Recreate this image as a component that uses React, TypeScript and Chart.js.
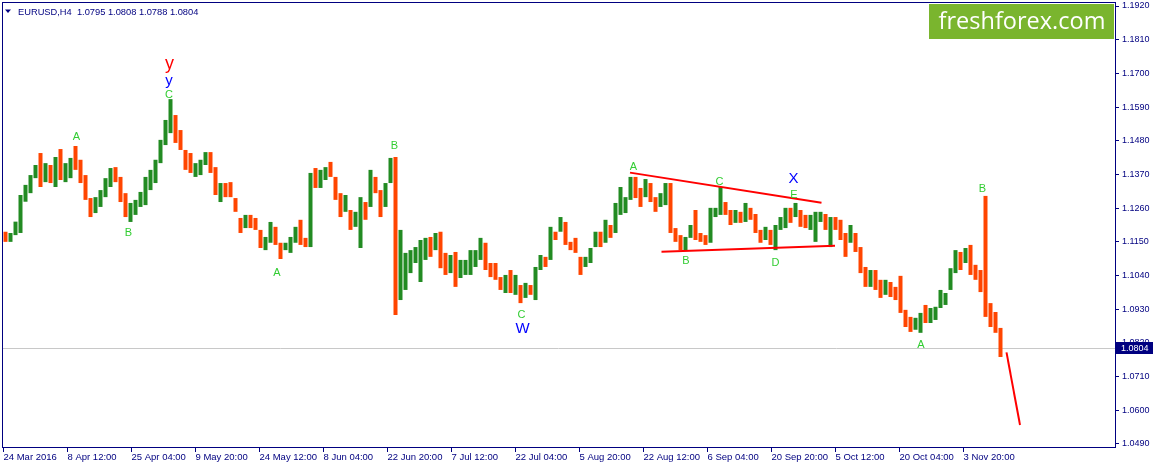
import React, { useEffect, useRef } from "react";
import { Chart, registerables } from "chart.js";

Chart.register(...registerables);

// ---------- data ----------
const symbolLabel = "EURUSD,H4";
const lastBarOHLC = [1.0795, 1.0808, 1.0788, 1.0804];

// each drawn block merges this many H4 bars (x unit = one H4 bar)
const barsPerGroup = 5;
const firstOpen = 1.117;

const highs = [
  1.1183, 1.1179, 1.1216, 1.1303, 1.1336, 1.1368, 1.1401, 1.144, 1.1407, 1.1401,
  1.1427, 1.1453, 1.1407, 1.1424, 1.1463, 1.1418, 1.1368, 1.1293, 1.1296, 1.1319,
  1.1358, 1.1391, 1.1394, 1.1362, 1.1309, 1.1277, 1.1287, 1.1313, 1.1362, 1.1385,
  1.1418, 1.1483, 1.1548, 1.1616, 1.1564, 1.1515, 1.145, 1.144, 1.1407, 1.1418,
  1.1443, 1.1443, 1.1394, 1.1342, 1.1342, 1.1345, 1.1293, 1.1228, 1.1238, 1.1238,
  1.1228, 1.1189, 1.1166, 1.1215, 1.1199, 1.1147, 1.1147, 1.1166, 1.1199, 1.1222,
  1.1163, 1.1375, 1.1391, 1.1385, 1.1394, 1.1411, 1.1362, 1.1309, 1.1303, 1.1254,
  1.1248, 1.1296, 1.128, 1.1385, 1.1362, 1.1319, 1.1342, 1.1424, 1.1427, 1.1189,
  1.1114, 1.1123, 1.1133, 1.1156, 1.1163, 1.1166, 1.1179, 1.1183, 1.1114, 1.1107,
  1.1117, 1.1091, 1.1091, 1.1123, 1.1123, 1.1163, 1.1147, 1.1081, 1.1081, 1.1035,
  1.1042, 1.1058, 1.1042, 1.1009, 1.1016, 1.1009, 1.1068, 1.1107, 1.1101, 1.1199,
  1.1183, 1.1231, 1.1215, 1.115, 1.1163, 1.1101, 1.1101, 1.113, 1.1183, 1.1183,
  1.1222, 1.1205, 1.1277, 1.1329, 1.1296, 1.1362, 1.1362, 1.1326, 1.1355, 1.1342,
  1.1296, 1.1309, 1.1342, 1.1342, 1.1195, 1.1172, 1.1166, 1.1205, 1.1254, 1.1179,
  1.1172, 1.1261, 1.1261, 1.1329, 1.128, 1.1254, 1.1254, 1.1248, 1.1277, 1.1261,
  1.1241, 1.1189, 1.1199, 1.1189, 1.1205, 1.1231, 1.1261, 1.1261, 1.1277, 1.1254,
  1.1238, 1.1238, 1.1248, 1.1248, 1.1241, 1.1231, 1.1231, 1.1222, 1.1179, 1.1205,
  1.1179, 1.1133, 1.1068, 1.1058, 1.1058, 1.1026, 1.1026, 1.1019, 1.1003, 1.1039,
  1.0928, 1.0905, 1.0902, 1.0918, 1.0944, 1.0934, 1.0938, 1.0993, 1.0983, 1.1064,
  1.1123, 1.1117, 1.113, 1.114, 1.1075, 1.1058, 1.13, 1.095, 1.0921, 1.0869,
];

const lows = [
  1.115, 1.115, 1.1172, 1.1179, 1.1281, 1.1309, 1.1358, 1.1329, 1.1345, 1.1342,
  1.1329, 1.1352, 1.1345, 1.1358, 1.1385, 1.1342, 1.1287, 1.1231, 1.1244, 1.1264,
  1.1296, 1.1329, 1.1345, 1.128, 1.1231, 1.1215, 1.1238, 1.1264, 1.127, 1.1319,
  1.1342, 1.1407, 1.1466, 1.1505, 1.1473, 1.145, 1.1385, 1.1375, 1.1362, 1.1368,
  1.1401, 1.1375, 1.1303, 1.128, 1.1296, 1.1296, 1.1248, 1.1179, 1.1195, 1.1195,
  1.1189, 1.113, 1.1123, 1.1147, 1.114, 1.1094, 1.1123, 1.1114, 1.1147, 1.114,
  1.1133, 1.1133, 1.1326, 1.1326, 1.1352, 1.1362, 1.1287, 1.1231, 1.1248, 1.1189,
  1.1199, 1.113, 1.1222, 1.1264, 1.1309, 1.1231, 1.1264, 1.1342, 1.0911, 1.096,
  1.0993, 1.1048, 1.1081, 1.1019, 1.1091, 1.1101, 1.1123, 1.1064, 1.1042, 1.1048,
  1.1003, 1.1032, 1.1042, 1.1042, 1.1068, 1.1091, 1.1058, 1.1035, 1.1026, 1.0993,
  1.0983, 1.0983, 1.0977, 1.095, 1.0967, 1.0977, 1.096, 1.1058, 1.1068, 1.1091,
  1.1156, 1.1183, 1.114, 1.1123, 1.1114, 1.1042, 1.1068, 1.1081, 1.1133, 1.1133,
  1.1147, 1.1163, 1.1179, 1.1238, 1.1244, 1.1287, 1.1293, 1.1264, 1.1296, 1.128,
  1.1248, 1.1264, 1.127, 1.1179, 1.115, 1.1123, 1.1123, 1.1163, 1.1156, 1.115,
  1.114, 1.1147, 1.1231, 1.1238, 1.1238, 1.1205, 1.1212, 1.1212, 1.1215, 1.1222,
  1.1179, 1.1147, 1.1156, 1.114, 1.1123, 1.1189, 1.1195, 1.1212, 1.1231, 1.1199,
  1.1195, 1.1189, 1.115, 1.1215, 1.1189, 1.1133, 1.1189, 1.1156, 1.1101, 1.1147,
  1.1117, 1.1048, 1.1003, 1.1003, 1.0993, 1.0967, 1.0977, 1.097, 1.096, 1.0918,
  1.0872, 1.0856, 1.0863, 1.0853, 1.0885, 1.0885, 1.0895, 1.0934, 1.0944, 1.0993,
  1.1048, 1.1058, 1.1081, 1.1042, 1.1026, 1.0986, 1.0905, 1.0872, 1.0853, 1.0774,
];

const closes = [
  1.116, 1.1172, 1.1205, 1.1295, 1.132, 1.136, 1.139, 1.137, 1.1385, 1.136,
  1.1395, 1.137, 1.138, 1.141, 1.14, 1.1355, 1.1295, 1.125, 1.128, 1.131,
  1.1345, 1.137, 1.1355, 1.1295, 1.1245, 1.125, 1.127, 1.13, 1.1345, 1.137,
  1.141, 1.1475, 1.1535, 1.154, 1.149, 1.146, 1.14, 1.139, 1.1395, 1.141,
  1.142, 1.139, 1.1315, 1.132, 1.131, 1.13, 1.1255, 1.1205, 1.122, 1.121,
  1.1195, 1.1145, 1.115, 1.119, 1.115, 1.113, 1.1135, 1.116, 1.1185, 1.115,
  1.114, 1.136, 1.134, 1.137, 1.138, 1.137, 1.13, 1.125, 1.1265, 1.121,
  1.123, 1.126, 1.124, 1.135, 1.132, 1.125, 1.1335, 1.141, 1.1, 1.106,
  1.108, 1.11, 1.111, 1.112, 1.114, 1.113, 1.1165, 1.1085, 1.106, 1.108,
  1.105, 1.107, 1.1075, 1.11, 1.111, 1.114, 1.107, 1.105, 1.104, 1.1005,
  1.102, 1.1, 1.101, 1.0965, 1.099, 1.0985, 1.106, 1.109, 1.1075, 1.118,
  1.117, 1.121, 1.115, 1.114, 1.112, 1.107, 1.1085, 1.112, 1.117, 1.115,
  1.12, 1.118, 1.1265, 1.127, 1.1285, 1.134, 1.131, 1.129, 1.133, 1.13,
  1.1265, 1.129, 1.132, 1.119, 1.1165, 1.114, 1.1155, 1.119, 1.117, 1.116,
  1.115, 1.1245, 1.1245, 1.126, 1.125, 1.1225, 1.1235, 1.1225, 1.125, 1.1235,
  1.119, 1.1165, 1.1175, 1.116, 1.1195, 1.122, 1.1245, 1.1235, 1.125, 1.122,
  1.1215, 1.1225, 1.123, 1.123, 1.121, 1.1215, 1.12, 1.117, 1.115, 1.116,
  1.113, 1.106, 1.103, 1.104, 1.1005, 1.099, 1.1, 1.0985, 1.0975, 1.093,
  1.0885, 1.087, 1.088, 1.091, 1.09, 1.092, 1.093, 1.097, 1.0975, 1.1055,
  1.11, 1.108, 1.111, 1.106, 1.104, 1.1, 1.093, 1.09, 1.088, 1.0804,
];

// x-axis: H4 bar index of each time label
const xTickBars = [0, 64, 128, 192, 256, 320, 384, 448, 512, 576, 640, 704, 768, 832, 896, 960];
const xTickLabels = [
  "24 Mar 2016", "8 Apr 12:00", "25 Apr 04:00", "9 May 20:00", "24 May 12:00", "8 Jun 04:00",
  "22 Jun 20:00", "7 Jul 12:00", "22 Jul 04:00", "5 Aug 20:00", "22 Aug 12:00", "6 Sep 04:00",
  "20 Sep 20:00", "5 Oct 12:00", "20 Oct 04:00", "3 Nov 20:00",
];
const yTickLabels = [
  "1.1920", "1.1810", "1.1700", "1.1590", "1.1480", "1.1370", "1.1260",
  "1.1150", "1.1040", "1.0930", "1.0820", "1.0710", "1.0600", "1.0490",
];
const xAxisRange = [-1.5, 1111.5];
const yAxisRange = [1.04802, 1.19331];

// trend lines: [bar index, price]
const triangleUpper = [[626.5, 1.1376], [818, 1.1278]];
const triangleLower = [[658, 1.1118], [831.5, 1.1137]];
const forecastLine = [[1003, 1.0789], [1016.5, 1.0552]];

// wave labels: [bar index, price (baseline), text, degree]
const waveLabels: [number, number, string, string][] = [
  [166, 1.1714, "y", "primary"],
  [165.5, 1.1662, "y", "intermediate"],
  [165.5, 1.162, "C", "minor"],
  [73, 1.1481, "A", "minor"],
  [125, 1.1168, "B", "minor"],
  [273.5, 1.1037, "A", "minor"],
  [391, 1.1453, "B", "minor"],
  [518, 1.09, "C", "minor"],
  [519, 1.0851, "W", "intermediate"],
  [630, 1.1383, "A", "minor"],
  [682.5, 1.1079, "B", "minor"],
  [716, 1.1337, "C", "minor"],
  [772, 1.1071, "D", "minor"],
  [790.5, 1.1293, "E", "minor"],
  [790, 1.1341, "X", "intermediate"],
  [917.5, 1.0802, "A", "minor"],
  [979, 1.1314, "B", "minor"],
];

// ---------- styles ----------
const NAVY = "#000080";
const UP = "#228B22";
const DOWN = "#FF4500";
const FONT = "'Liberation Sans', Arial, sans-serif";
const degreeStyle: Record<string, { color: string; size: number }> = {
  minor: { color: "#32CD32", size: 11 },
  intermediate: { color: "#0000FF", size: 15 },
  primary: { color: "#FF0000", size: 18 },
};

const overlayPlugin = {
  id: "mt4Overlay",
  beforeDatasetsDraw(chart: any) {
    const { ctx, chartArea, scales } = chart;
    const y = Math.round(scales.y.getPixelForValue(closes[closes.length - 1])) + 0.5;
    ctx.save();
    ctx.strokeStyle = "#C8C8C8";
    ctx.lineWidth = 1;
    ctx.beginPath();
    ctx.moveTo(chartArea.left, y);
    ctx.lineTo(chartArea.right, y);
    ctx.stroke();
    ctx.restore();
  },
  afterDatasetsDraw(chart: any) {
    const { ctx, scales } = chart;
    ctx.save();
    ctx.textAlign = "center";
    ctx.textBaseline = "alphabetic";
    for (const [bar, price, text, degree] of waveLabels) {
      const st = degreeStyle[degree];
      ctx.font = `${st.size}px ${FONT}`;
      ctx.fillStyle = st.color;
      ctx.fillText(text, scales.x.getPixelForValue(bar), scales.y.getPixelForValue(price));
    }
    ctx.restore();
  },
  afterDraw(chart: any) {
    const { ctx, chartArea, scales } = chart;
    ctx.save();
    // frame
    ctx.strokeStyle = NAVY;
    ctx.lineWidth = 1;
    ctx.strokeRect(chartArea.left + 0.5, chartArea.top + 0.5, chartArea.right - chartArea.left, chartArea.bottom - chartArea.top);
    // header
    ctx.fillStyle = NAVY;
    ctx.beginPath();
    ctx.moveTo(5, 9.5);
    ctx.lineTo(11, 9.5);
    ctx.lineTo(8, 13);
    ctx.closePath();
    ctx.fill();
    ctx.font = `9.3px ${FONT}`;
    ctx.textAlign = "left";
    ctx.textBaseline = "middle";
    ctx.fillText(`${symbolLabel}  ${lastBarOHLC.map((v) => v.toFixed(4)).join(" ")}`, 18, 12);
    // current price marker
    const last = closes[closes.length - 1];
    const py = scales.y.getPixelForValue(last);
    ctx.fillStyle = NAVY;
    ctx.fillRect(chartArea.right + 1, Math.round(py) - 6, 37, 12);
    ctx.fillStyle = "#FFFFFF";
    ctx.font = `9px ${FONT}`;
    ctx.fillText(last.toFixed(4), chartArea.right + 6, Math.round(py) + 0.5);
    // logo
    ctx.fillStyle = "#7AB52E";
    ctx.fillRect(929, 4, 185, 35);
    ctx.fillStyle = "#FFFFFF";
    ctx.font = "23.5px 'Open Sans', 'Noto Sans', sans-serif";
    ctx.textAlign = "center";
    ctx.textBaseline = "alphabetic";
    ctx.fillText("freshforex.com", 1022, 29);
    ctx.restore();
  },
};

export default function App() {
  const canvasRef = useRef<HTMLCanvasElement | null>(null);

  useEffect(() => {
    if (!canvasRef.current) return;
    const opens = closes.map((c, i) => (i === 0 ? firstOpen : closes[i - 1]));
    const colors = closes.map((c, i) => (c >= opens[i] ? UP : DOWN));
    const barData = highs.map((h, i) => ({
      x: i * barsPerGroup + (barsPerGroup - 1) / 2,
      y: [lows[i], h],
    }));
    const toPts = (arr: number[][]) => arr.map(([x, y]) => ({ x, y }));
    const lineDs = (arr: number[][]) => ({
      type: "line" as const,
      data: toPts(arr),
      borderColor: "#FF0000",
      borderWidth: 2,
      pointRadius: 0,
      fill: false,
      tension: 0,
      order: 0,
    });

    const chart = new Chart(canvasRef.current, {
      type: "bar",
      data: {
        datasets: [
          {
            type: "bar",
            data: barData as any,
            backgroundColor: colors,
            borderWidth: 0,
            barPercentage: 0.8,
            categoryPercentage: 1,
            order: 1,
          } as any,
          lineDs(triangleUpper) as any,
          lineDs(triangleLower) as any,
          lineDs(forecastLine) as any,
        ],
      },
      options: {
        animation: false,
        responsive: false,
        maintainAspectRatio: false,
        events: [],
        layout: { padding: { left: 2, top: 2, right: 0, bottom: 0 } },
        plugins: {
          legend: { display: false },
          tooltip: { enabled: false },
          title: { display: false },
        },
        scales: {
          x: {
            type: "linear",
            min: xAxisRange[0],
            max: xAxisRange[1],
            offset: false,
            bounds: "data",
            grid: {
              display: true,
              drawOnChartArea: false,
              drawTicks: true,
              tickLength: 5,
              color: NAVY,
              offset: false,
            },
            border: { display: true, color: NAVY, width: 1 },
            ticks: {
              autoSkip: false,
              maxRotation: 0,
              minRotation: 0,
              align: "start",
              padding: 0,
              color: NAVY,
              font: { family: FONT, size: 9.5 },
              callback: (_v: any, i: number) => xTickLabels[i] ?? "",
            },
            afterBuildTicks: (s: any) => {
              s.ticks = xTickBars.map((v) => ({ value: v }));
            },
            afterFit: (s: any) => {
              s.height = 21;
              s.paddingLeft = 0;
              s.paddingRight = 0;
              s.paddingTop = 0;
              s.paddingBottom = 0;
            },
          } as any,
          y: {
            type: "linear",
            position: "right",
            min: yAxisRange[0],
            max: yAxisRange[1],
            bounds: "data",
            beginAtZero: false,
            grid: {
              display: true,
              drawOnChartArea: false,
              drawTicks: true,
              tickLength: 4,
              color: NAVY,
            },
            border: { display: true, color: NAVY, width: 1 },
            ticks: {
              autoSkip: false,
              padding: 3,
              color: NAVY,
              crossAlign: "near",
              font: { family: FONT, size: 9 },
              callback: (v: any) => Number(v).toFixed(4),
            },
            afterBuildTicks: (s: any) => {
              s.ticks = yTickLabels.map((t) => ({ value: parseFloat(t) }));
            },
            afterFit: (s: any) => {
              s.width = 40;
              s.paddingLeft = 0;
              s.paddingRight = 0;
              s.paddingTop = 0;
              s.paddingBottom = 0;
            },
          } as any,
        },
      },
      plugins: [overlayPlugin],
    });
    return () => chart.destroy();
  }, []);

  return (
    <div style={{ position: "absolute", left: 0, top: 0, width: 1155, height: 468, background: "#FFFFFF" }}>
      <canvas ref={canvasRef} width={1155} height={468} style={{ width: 1155, height: 468, display: "block" }} />
    </div>
  );
}
